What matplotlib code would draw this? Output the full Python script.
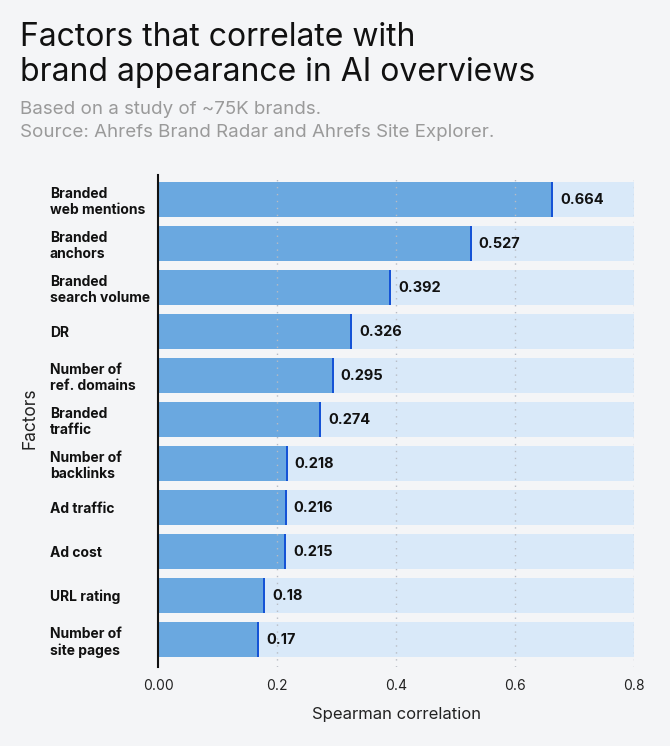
import matplotlib
matplotlib.use("Agg")
import matplotlib.pyplot as plt

categories = ["Branded\nweb mentions", "Branded\nanchors", "Branded\nsearch volume", "DR",
              "Number of\nref. domains", "Branded\ntraffic", "Number of\nbacklinks",
              "Ad traffic", "Ad cost", "URL rating", "Number of\nsite pages"]
values = [0.664, 0.527, 0.392, 0.326, 0.295, 0.274, 0.218, 0.216, 0.215, 0.18, 0.17]
value_labels = ["0.664", "0.527", "0.392", "0.326", "0.295", "0.274", "0.218", "0.216", "0.215", "0.18", "0.17"]
xticks = [0.0, 0.2, 0.4, 0.6, 0.8]
xtick_labels = ["0.00", "0.2", "0.4", "0.6", "0.8"]

BG = "#f4f5f7"
plt.rcParams['font.family'] = ['Inter', 'DejaVu Sans']

fig = plt.figure(figsize=(6.7, 7.46), dpi=100, facecolor=BG)
ax = fig.add_axes([158/670, 1-667/746, (634-158)/670, (667-175)/746])
ax.set_facecolor(BG)

n = len(categories)
ypos = list(range(n))
ax.barh(ypos, [0.8]*n, height=0.8, color="#d9e9f9", zorder=1)
ax.barh(ypos, values, height=0.8, color="#6aa8e0", zorder=2)
ax.barh(ypos, [0.003]*n, left=[v-0.003 for v in values], height=0.8, color="#1553d6", zorder=3)

for y, v, lab in zip(ypos, values, value_labels):
    ax.text(v + 0.012, y, lab, va="center", ha="left", fontsize=10.5, fontweight="bold", color="#111111", zorder=5)

ax.set_xlim(0, 0.8)
ax.set_ylim(10.62, -0.56)
ax.set_xticks(xticks)
ax.set_xticklabels(xtick_labels, fontsize=10, color="#222222")
ax.set_yticks(ypos)
ax.set_yticklabels(categories, fontsize=10, fontweight="bold", color="#111111", ha="left", linespacing=1.2)
ax.tick_params(axis="y", length=0, pad=77.8)
ax.tick_params(axis="x", length=0, pad=9)
for x in xticks[1:]:
    ax.axvline(x, color="#b8bcc4", linestyle=(0, (1, 4)), linewidth=1, zorder=4)

for s in ["top", "right", "bottom"]:
    ax.spines[s].set_visible(False)
ax.spines["left"].set_color("#111111")
ax.spines["left"].set_linewidth(1.5)
ax.spines["left"].set_zorder(6)

ax.set_xlabel("Spearman correlation", fontsize=12, color="#222222", labelpad=10)
fig.text(21/670, 1-418/746, "Factors", rotation=90, fontsize=12.5, color="#222222", va="center", ha="left")

fig.text(20/670, 1-55/746, "Factors that correlate with\nbrand appearance in AI overviews",
         fontsize=23, color="#111111", va="center", ha="left", linespacing=1.15)
fig.text(20/670, 1-121/746, "Based on a study of ~75K brands.\nSource: Ahrefs Brand Radar and Ahrefs Site Explorer.",
         fontsize=13.5, color="#9a9a9a", va="center", ha="left", linespacing=1.45)

fig.savefig("out.png", dpi=100, facecolor=BG)
